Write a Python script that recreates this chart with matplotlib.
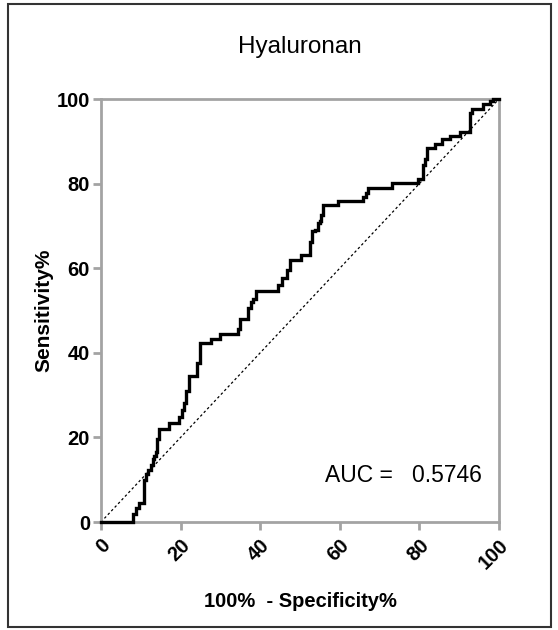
import matplotlib
matplotlib.use("Agg")
import matplotlib.pyplot as plt
from matplotlib.patches import Rectangle

plt.rcParams['font.family'] = ['Liberation Sans', 'DejaVu Sans']

# ROC-Kurve (Treppenpunkte: x = 100% - Spezifität, y = Sensitivität)
fpr = [0, 8.0, 8.8, 9.6, 10.8, 11.3, 11.8, 12.5, 13.0, 13.4, 13.8, 14.0, 14.5,
       17.0, 19.5, 20.3, 20.9, 21.3, 22.0, 24.2, 24.8, 27.6, 29.8, 34.3, 34.8,
       37.0, 37.7, 38.3, 39.0, 44.5, 45.6, 46.7, 47.5, 50.2, 52.5, 52.9, 53.7,
       54.5, 54.9, 55.3, 55.9, 59.5, 65.8, 66.5, 67.2, 73.2, 79.6, 81.0, 81.4,
       81.8, 84.0, 85.8, 87.8, 90.2, 92.8, 93.3, 96.0, 97.8, 98.6, 100]
tpr = [0, 1.9, 3.3, 4.5, 10.0, 11.3, 12.4, 13.5, 14.8, 15.7, 16.6, 19.6, 22.0,
       23.4, 24.8, 26.5, 28.2, 31.0, 34.5, 37.7, 42.2, 43.2, 44.4, 45.6, 48.0,
       50.7, 52.0, 52.8, 54.6, 56.0, 57.7, 59.6, 62.0, 63.2, 66.3, 68.7, 69.1,
       70.7, 71.2, 72.6, 74.9, 75.8, 76.8, 77.8, 79.0, 80.2, 81.2, 84.4, 85.8,
       88.3, 89.3, 90.5, 91.2, 92.3, 96.7, 97.7, 98.7, 99.5, 100, 100]
ticks = [0, 20, 40, 60, 80, 100]
auc = 0.5746

fig = plt.figure(figsize=(5.58, 6.3), dpi=100)
ax = fig.add_axes([101/558, 108/630, 398/558, 423/630])

grey = '#a3a3a3'
ax.plot([0, 100], [0, 100], color='black', lw=0.9, ls=(0, (2, 2)), clip_on=False)
ax.plot(fpr, tpr, color='black', lw=2.4, drawstyle='steps-post',
        solid_joinstyle='miter', clip_on=False, zorder=3)

ax.set_xlim(0, 100)
ax.set_ylim(0, 100)
ax.set_xticks(ticks)
ax.set_yticks(ticks)
ax.set_xticklabels([str(t) for t in ticks], rotation=45, ha='right', va='top',
                   rotation_mode='anchor', fontweight='bold', fontsize=14.5)
ax.set_yticklabels([str(t) for t in ticks], fontweight='bold', fontsize=14.5)
for s in ax.spines.values():
    s.set_color(grey)
    s.set_linewidth(2)
ax.tick_params(direction='out', length=6, width=2, color=grey, pad=2)
ax.tick_params(axis='x', pad=4)

ax.set_title('Hyaluronan', fontsize=17.5, pad=33)
ax.set_ylabel('Sensitivity%', fontsize=15, fontweight='bold', labelpad=2)
ax.set_xlabel('100%  - Specificity%', fontsize=14.5, fontweight='bold', labelpad=14)
ax.text(56.3, 11.1, 'AUC =   %.4f' % auc, fontsize=16.5, va='center', ha='left')

# Rahmen um die ganze Abbildung
fig.patches.append(Rectangle((8/558, 3/630), 543/558, 623/630, transform=fig.transFigure,
                             fill=False, edgecolor='#333333', lw=1.5))

fig.savefig('out.png', dpi=100)
